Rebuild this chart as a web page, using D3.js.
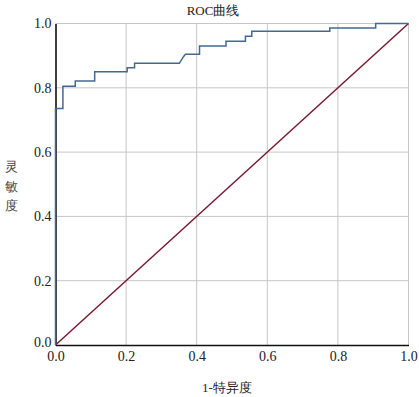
<!DOCTYPE html>
<html><head><meta charset="utf-8">
<script src="https://cdn.jsdelivr.net/npm/d3@7"></script>
<style>body{margin:0;background:#fff}svg{display:block}</style>
</head><body>
<script>
const fpr = [0, 0, 0.021, 0.021, 0.056, 0.056, 0.111, 0.111, 0.203, 0.203, 0.224, 0.224, 0.351, 0.362, 0.368, 0.408, 0.408, 0.483, 0.483, 0.538, 0.538, 0.556, 0.556, 0.777, 0.777, 0.907, 0.907, 1.0];
const tpr = [0, 0.736, 0.736, 0.805, 0.805, 0.821, 0.821, 0.850, 0.850, 0.862, 0.862, 0.876, 0.876, 0.896, 0.904, 0.904, 0.930, 0.930, 0.945, 0.945, 0.960, 0.960, 0.976, 0.976, 0.986, 0.986, 1.0, 1.0];
const refX = [0, 1];
const refY = [0, 1];
const ticks = [0, 0.2, 0.4, 0.6, 0.8, 1.0];
const title = "ROC曲线";
const xTitle = "1-特异度";
const yTitle = ["灵", "敏", "度"];

const W = 419, H = 397;
const svg = d3.select("body").append("svg").attr("width", W).attr("height", H);
const x = d3.scaleLinear().domain([0, 1]).range([55.5, 408.5]);
const y = d3.scaleLinear().domain([0, 1]).range([345, 23.5]);
const serif = "'Liberation Serif','Times New Roman',serif";

// gridlines
svg.append("g").selectAll("line.v").data(ticks.slice(1)).join("line")
  .attr("x1", d => x(d)).attr("x2", d => x(d)).attr("y1", y(0)).attr("y2", y(1))
  .attr("stroke", "#c6c6c6").attr("stroke-width", 1);
svg.append("g").selectAll("line.h").data(ticks.slice(1)).join("line")
  .attr("y1", d => y(d)).attr("y2", d => y(d)).attr("x1", x(0)).attr("x2", x(1))
  .attr("stroke", "#c6c6c6").attr("stroke-width", 1);

// axes
const xAxis = d3.axisBottom(x).tickValues(ticks).tickFormat(d3.format(".1f")).tickSize(0).tickPadding(6);
const yAxis = d3.axisLeft(y).tickValues(ticks).tickFormat(d3.format(".1f")).tickSize(0).tickPadding(4);
const gx = svg.append("g").attr("transform", `translate(0,${y(0)})`).call(xAxis);
const gy = svg.append("g").attr("transform", `translate(${x(0)},0)`).call(yAxis);
[gx, gy].forEach(g => {
  g.select(".domain").attr("stroke", "#111").attr("stroke-width", 1.6);
  g.selectAll("text").attr("font-family", serif).attr("font-size", 14).attr("fill", "#222");
});
gy.selectAll(".tick").filter(d => d === 0).select("text").attr("dy", "0.1em");

// reference diagonal
svg.append("path").datum(refX.map((d, i) => [d, refY[i]]))
  .attr("d", d3.line().x(d => x(d[0])).y(d => y(d[1])))
  .attr("fill", "none").attr("stroke", "#7a1a32").attr("stroke-width", 1.5);

// ROC curve
svg.append("path").datum(fpr.map((d, i) => [d, tpr[i]]))
  .attr("d", d3.line().x(d => x(d[0])).y(d => y(d[1])))
  .attr("fill", "none").attr("stroke", "#44698f").attr("stroke-width", 1.5);

// titles
svg.append("text").attr("x", 213).attr("y", 15).attr("text-anchor", "middle")
  .attr("font-family", serif).attr("font-size", 13).attr("fill", "#222").text(title);
svg.append("text").attr("x", 227).attr("y", 392).attr("text-anchor", "middle")
  .attr("font-family", serif).attr("font-size", 13).attr("fill", "#222").text(xTitle);
svg.append("g").selectAll("text").data(yTitle).join("text")
  .attr("x", 11).attr("y", (d, i) => 171 + i * 19.5).attr("text-anchor", "middle")
  .attr("font-family", serif).attr("font-size", 13).attr("fill", "#444").text(d => d);
</script>
</body></html>
